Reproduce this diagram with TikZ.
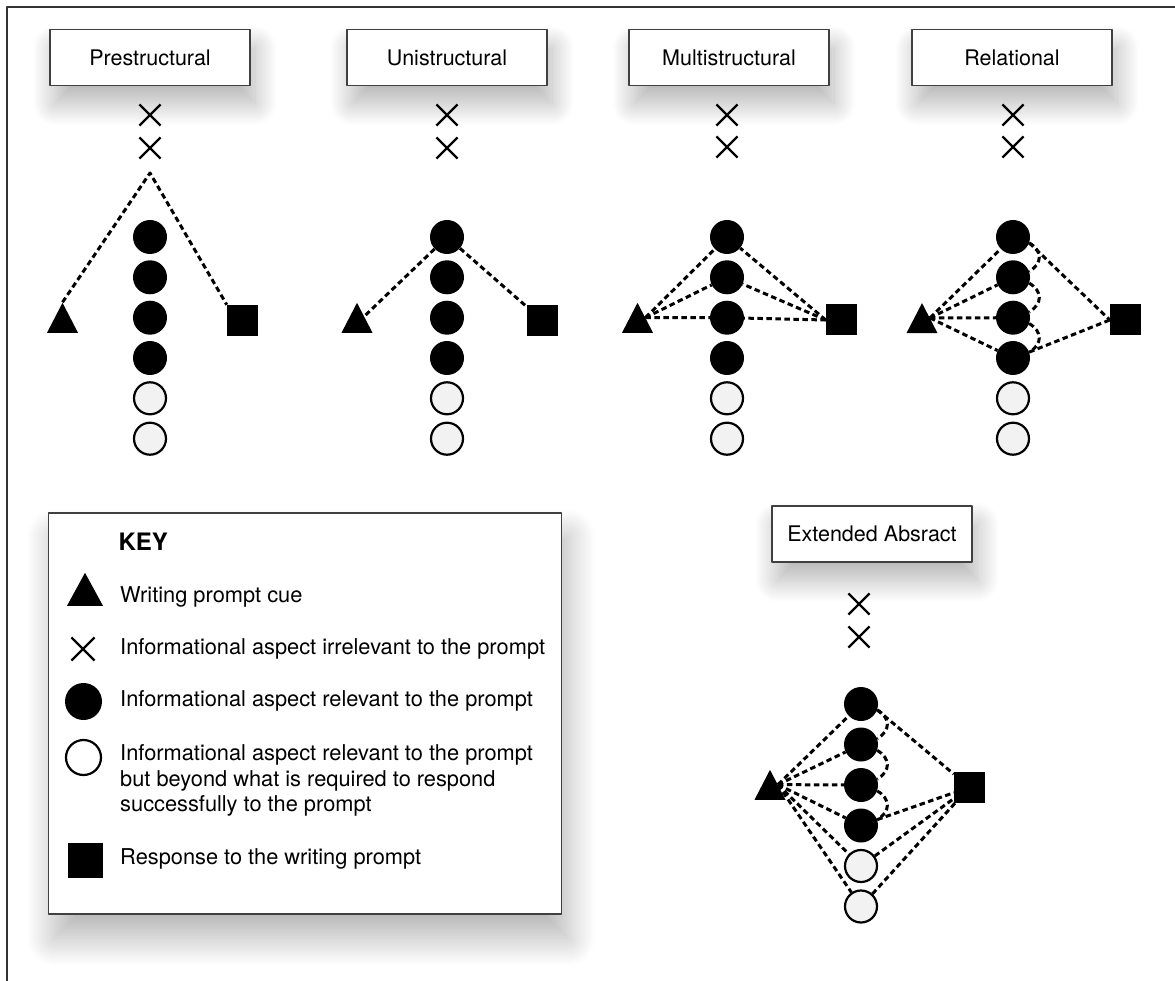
\documentclass[tikz,border=0pt]{standalone}
\usepackage{fontspec}
\setmainfont{TeX Gyre Heros}
\usetikzlibrary{shapes.geometric,shapes.misc,shadows.blur}

\begin{document}
\begin{tikzpicture}[x=1pt, y=-1pt, line join=round,
    level/.style={draw=black!75, line width=1.3pt, fill=white, minimum width=200pt, minimum height=56pt, inner sep=0pt, font=\fontsize{21.5}{26}\selectfont, blur shadow={shadow xshift=5pt, shadow yshift=-18pt, shadow blur radius=22pt, shadow blur steps=30, shadow opacity=30}},
    rel/.style={circle, fill=black, inner sep=0pt, minimum size=34pt},
    beyond/.style={circle, draw=black, line width=2.2pt, fill=black!5, inner sep=0pt, minimum size=32pt},
    cue/.style={isosceles triangle, shape border rotate=90, isosceles triangle stretches, fill=black, inner sep=0pt, minimum width=31pt, minimum height=30pt},
    resp/.style={rectangle, fill=black, inner sep=0pt, minimum size=31pt},
    irr/.style={cross out, draw=black, line width=2.2pt, inner sep=0pt, minimum size=19pt},
    link/.style={line width=3pt, dash pattern=on 5.5pt off 3.5pt},
    keytext/.style={anchor=west, align=left, font=\fontsize{21.8}{25.3}\selectfont}]
                    \useasboundingbox (0,0) rectangle (1175,981);
                    \draw [black!80, line width=1.3pt] (7,981) -- (7,7) -- (1175,7);

                    % Prestructural
                    \node[level] (pTitle) at (150,57.5) {Prestructural};
                    \node[irr] (pX1) at (150,115) {};
                    \node[irr] (pX2) at (150,148) {};
                    \node[rel] (p1) at (150,237) {};
                    \node[rel] (p2) at (150,277.3) {};
                    \node[rel] (p3) at (150,317.7) {};
                    \node[rel] (p4) at (150,358) {};
                    \node[beyond] (p5) at (150,398.3) {};
                    \node[beyond] (p6) at (150,438.7) {};
                    \node[cue, anchor=lower side] (pT) at (62.5,333) {};
                    \node[resp] (pS) at (242.5,320.5) {};
                    \coordinate (pTop) at (150,173);
                    \draw [link] (pT.apex) -- (pTop) -- (pS.north west);

                    % Unistructural
                    \node[level] (uTitle) at (447,57.5) {Unistructural};
                    \node[irr] (uX1) at (447,115) {};
                    \node[irr] (uX2) at (447,148) {};
                    \node[rel] (u1) at (447,237) {};
                    \node[rel] (u2) at (447,277.3) {};
                    \node[rel] (u3) at (447,317.7) {};
                    \node[rel] (u4) at (447,358) {};
                    \node[beyond] (u5) at (447,398.3) {};
                    \node[beyond] (u6) at (447,438.7) {};
                    \node[cue, anchor=lower side] (uT) at (357,333) {};
                    \node[resp] (uS) at (542.5,320.5) {};
                    \draw [link] (u1) -- (uT);
                    \draw [link] (u1) -- (uS);

                    % Multistructural
                    \node[level] (mTitle) at (729,57.5) {Multistructural};
                    \node[irr] (mX1) at (727,115) {};
                    \node[irr] (mX2) at (727,147) {};
                    \node[rel] (m1) at (727,237) {};
                    \node[rel] (m2) at (727,277.3) {};
                    \node[rel] (m3) at (727,317.7) {};
                    \node[rel] (m4) at (727,358) {};
                    \node[beyond] (m5) at (727,398.3) {};
                    \node[beyond] (m6) at (727,438.7) {};
                    \node[cue, anchor=lower side] (mT) at (637.5,333) {};
                    \node[resp] (mS) at (841.5,320) {};
                    \draw [link] (mT.right side) -- (m1);
                    \draw [link] (mT.right side) -- (m2);
                    \draw [link] (mT.right side) -- (m3);
                    \draw [link] (mS.west) -- (m1);
                    \draw [link] (mS.west) -- (m2);
                    \draw [link] (mS.west) -- (m3);

                    % Relational
                    \node[level] (rTitle) at (1012,57.5) {Relational};
                    \node[irr] (rX1) at (1013,115) {};
                    \node[irr] (rX2) at (1013,147) {};
                    \node[rel] (r1) at (1013,237) {};
                    \node[rel] (r2) at (1013,277.3) {};
                    \node[rel] (r3) at (1013,317.7) {};
                    \node[rel] (r4) at (1013,358) {};
                    \node[beyond] (r5) at (1013,398.3) {};
                    \node[beyond] (r6) at (1013,438.7) {};
                    \node[cue, anchor=lower side] (rT) at (922,333.3) {};
                    \node[resp] (rS) at (1125.5,320) {};
                    \draw [link] (rT.right side) -- (r1);
                    \draw [link] (rT.right side) -- (r2);
                    \draw [link] (rT.right side) -- (r3);
                    \draw [link] (rT.right side) -- (r4);
                    \draw [link] (r1.-20) to[out=-30, in=30, looseness=1.4] (r2.20);
                    \draw [link] (r2.-20) to[out=-30, in=30, looseness=1.4] (r3.20);
                    \draw [link] (r3.-20) to[out=-30, in=30, looseness=1.4] (r4.20);
                    \draw [link] (r1.-20) -- (rS.west);
                    \draw [link] (r4.20) -- (rS.west);

                    % Extended abstract
                    \node[level] (eTitle) at (872,534) {Extended Absract};
                    \node[irr] (eX1) at (859,604) {};
                    \node[irr] (eX2) at (859,637) {};
                    \node[rel] (e1) at (861,704) {};
                    \node[rel] (e2) at (861,744.5) {};
                    \node[rel] (e3) at (861,785) {};
                    \node[rel] (e4) at (861,825.5) {};
                    \node[beyond] (e5) at (861,866) {};
                    \node[beyond] (e6) at (861,906.5) {};
                    \node[cue, anchor=lower side] (eT) at (770,800) {};
                    \node[resp] (eS) at (969.5,787.2) {};
                    \draw [link] (eT.right side) -- (e1);
                    \draw [link] (eT.right side) -- (e2);
                    \draw [link] (eT.right side) -- (e3);
                    \draw [link] (eT.right side) -- (e4);
                    \draw [link] (eT.right side) -- (e5);
                    \draw [link] (eT.right side) -- (e6);
                    \draw [link] (e1.-20) to[out=-30, in=30, looseness=1.4] (e2.20);
                    \draw [link] (e2.-20) to[out=-30, in=30, looseness=1.4] (e3.20);
                    \draw [link] (e3.-20) to[out=-30, in=30, looseness=1.4] (e4.20);
                    \draw [link] (e1.-20) -- (eS);
                    \draw [link] (e4.20) -- (eS);
                    \draw [link] (e5) -- (eS);
                    \draw [link] (e6) -- (eS);

                    % Key
                    \node[draw=black!75, line width=1.3pt, fill=white, minimum width=513pt, minimum height=401pt, inner sep=0pt, blur shadow={shadow xshift=6pt, shadow yshift=-24pt, shadow blur radius=28pt, shadow blur steps=30, shadow opacity=30}] (key) at (305,713.5) {};
                    \node[anchor=west, font=\fontsize{24}{26}\selectfont\bfseries] (keyHead) at (115,542) {KEY};
                    \node[cue, minimum width=36pt, minimum height=33pt, anchor=lower side] (kT) at (85,606) {};
                    \node[keytext] (kTText) at (116.7,597) {Writing prompt cue};
                    \node[irr, minimum size=21pt] (kX) at (83,649) {};
                    \node[keytext] (kXText) at (116.7,649) {Informational aspect irrelevant to the prompt};
                    \node[rel, minimum size=37pt] (kR) at (83.5,701.5) {};
                    \node[keytext] (kRText) at (116.7,701) {Informational aspect relevant to the prompt};
                    \node[beyond, fill=white, minimum size=35pt] (kB) at (83.5,757.5) {};
                    \node[keytext] (kBText) at (116.7,780.5) {Informational aspect relevant to the prompt\\but beyond what is required to respond\\successfully to the prompt};
                    \node[resp, minimum size=35pt] (kS) at (85.5,860.5) {};
                    \node[keytext] (kSText) at (116.7,859) {Response to the writing prompt};
                \end{tikzpicture}
\end{document}
